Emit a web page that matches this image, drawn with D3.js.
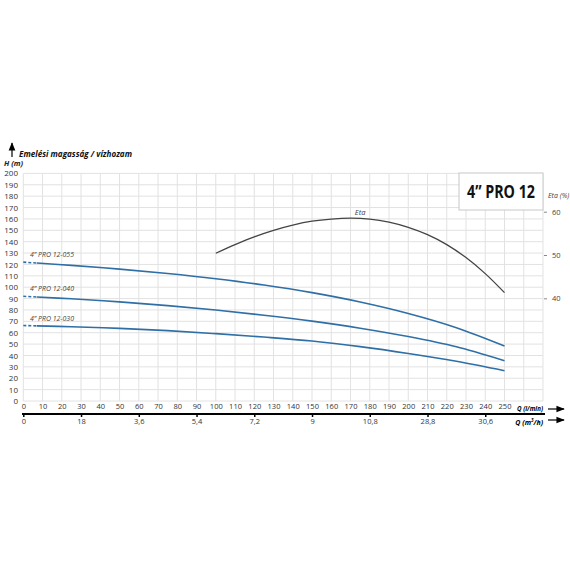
<!DOCTYPE html>
<html><head><meta charset="utf-8">
<script src="https://cdn.jsdelivr.net/npm/d3@7"></script>
<style>body{margin:0;background:#fff}svg{display:block}</style>
</head><body>
<script>
// ---- data ----
const flowQ = [0, 25, 50, 75, 100, 125, 150, 175, 200, 225, 250];
const head055 = [122, 119.2, 115.9, 112, 107.4, 101.9, 95.2, 87, 76.9, 64.4, 48.3];
const head040 = [92, 89.8, 87.1, 83.8, 79.9, 75.4, 70.2, 64, 56.6, 47.6, 35.4];
const head030 = [66.3, 65.3, 63.8, 61.8, 59.2, 56.2, 52.7, 47.8, 41.8, 34.9, 26.6];
const seriesNames = ["4\u201D PRO 12-055", "4\u201D PRO 12-040", "4\u201D PRO 12-030"];
const etaQ = [100, 110, 120, 130, 140, 150, 160, 170, 180, 190, 200, 210, 220, 230, 240, 250];
const etaVal = [50.4, 52.4, 54.2, 55.7, 56.9, 57.8, 58.3, 58.5, 58.3, 57.6, 56.4, 54.7, 52.4, 49.4, 45.7, 41.3];
const qTicks = [0,10,20,30,40,50,60,70,80,90,100,110,120,130,140,150,160,170,180,190,200,210,220,230,240,250];
const hTicks = [0,10,20,30,40,50,60,70,80,90,100,110,120,130,140,150,160,170,180,190,200];
const m3hTickQ = [0, 30, 60, 90, 120, 150, 180, 210, 240];
const m3hLabels = ["0", "18", "3,6", "5,4", "7,2", "9", "10,8", "28,8", "30,6"];
const etaTicks = [40, 50, 60];
const dashEndQ = 7;

const W = 570, H = 570;
const svg = d3.select("body").append("svg").attr("width", W).attr("height", H);
const x = d3.scaleLinear().domain([0, 250]).range([23.3, 504.5]);
const y = d3.scaleLinear().domain([0, 200]).range([401, 173.4]);
const yEta = d3.scaleLinear().domain([40, 60]).range([298.3, 211.7]);
const gridQmax = 270;
const font = "'Open Sans', 'Noto Sans', sans-serif";

// grid
const grid = svg.append("g").attr("stroke", "#e2e2e2").attr("stroke-width", 1);
grid.selectAll("line.v").data(d3.range(0, gridQmax + 1, 10)).join("line")
  .attr("x1", d => x(d)).attr("x2", d => x(d)).attr("y1", y(0)).attr("y2", y(200));
grid.selectAll("line.h").data(hTicks).join("line")
  .attr("x1", x(0)).attr("x2", x(gridQmax)).attr("y1", d => y(d)).attr("y2", d => y(d));

// left axis labels
const ya = svg.append("g").attr("transform", `translate(18,0)`)
  .call(d3.axisLeft(y).tickValues(hTicks).tickSize(0).tickPadding(0));
ya.select(".domain").remove();
ya.selectAll("text").attr("font-family", font).attr("font-size", 8).attr("fill", "#333");

// top x labels
const xa = svg.append("g").attr("transform", `translate(0,404)`)
  .call(d3.axisBottom(x).tickValues(qTicks).tickSize(0).tickPadding(0));
xa.select(".domain").remove();
xa.selectAll("text").attr("font-family", font).attr("font-size", 7.5).attr("fill", "#333");

// black axis line and m3/h axis
svg.append("line").attr("x1", 22).attr("x2", 545).attr("y1", 414).attr("y2", 414)
  .attr("stroke", "#000").attr("stroke-width", 2);
const m3 = svg.append("g").attr("transform", `translate(0,414)`)
  .call(d3.axisBottom(x).tickValues(m3hTickQ).tickSize(3).tickPadding(2)
    .tickFormat((d, i) => m3hLabels[i]));
m3.select(".domain").remove();
m3.selectAll("line").attr("stroke", "#000").attr("stroke-width", 1.5);
m3.selectAll("text").attr("font-family", font).attr("font-size", 7.5).attr("fill", "#333");

// Q labels + arrows
svg.append("defs").append("marker").attr("id", "arr").attr("viewBox", "0 0 10 10")
  .attr("refX", 9).attr("refY", 5).attr("markerWidth", 7).attr("markerHeight", 7)
  .attr("orient", "auto").append("path").attr("d", "M0,1 L10,5 L0,9 Z").attr("fill", "#000");
svg.append("text").attr("x", 517).attr("y", 411)
  .attr("font-family", font).attr("font-size", 7).attr("font-weight", "bold").attr("font-style", "italic")
  .attr("textLength", 26).attr("lengthAdjust", "spacingAndGlyphs").text("Q (l/min)");
const t2 = svg.append("text").attr("x", 543).attr("y", 425).attr("text-anchor", "end")
  .attr("font-family", font).attr("font-size", 7).attr("font-weight", "bold").attr("font-style", "italic");
t2.append("tspan").text("Q (m");
t2.append("tspan").attr("font-size", 4.5).attr("dy", -3).text("3");
t2.append("tspan").attr("dy", 3).text("/h)");
[409, 420].forEach(yy => svg.append("line").attr("x1", 548).attr("x2", 564).attr("y1", yy).attr("y2", yy)
  .attr("stroke", "#000").attr("stroke-width", 1.2).attr("marker-end", "url(#arr)"));

// title / y label
svg.append("line").attr("x1", 12).attr("x2", 12).attr("y1", 157).attr("y2", 143)
  .attr("stroke", "#000").attr("stroke-width", 1.2).attr("marker-end", "url(#arr)");
svg.append("text").attr("x", 19).attr("y", 157).attr("font-family", font).attr("font-size", 9)
  .attr("font-weight", "bold").attr("font-style", "italic").attr("fill", "#111")
  .attr("textLength", 113).attr("lengthAdjust", "spacingAndGlyphs")
  .text("Emelési magasság / vízhozam");
svg.append("text").attr("x", 4).attr("y", 166).attr("font-family", font).attr("font-size", 7.5)
  .attr("font-weight", "bold").attr("font-style", "italic").attr("fill", "#222").text("H (m)");

// curves
const blue = "#2f6fa6";
const heads = [head055, head040, head030];
const curve = d3.line().x(d => x(d[0])).y(d => y(d[1])).curve(d3.curveCatmullRom);
heads.forEach((hs, si) => {
  const pts = flowQ.map((q, i) => [q, hs[i]]);
  const fn = d3.scaleLinear().domain(flowQ).range(hs);
  const solid = pts.filter(p => p[0] > dashEndQ);
  const hAtDash = fn(dashEndQ);
  svg.append("path").attr("d", curve([[dashEndQ, hAtDash], ...solid]))
    .attr("fill", "none").attr("stroke", blue).attr("stroke-width", 1.6);
  svg.append("path").attr("d", curve([pts[0], [dashEndQ, hAtDash]]))
    .attr("fill", "none").attr("stroke", blue).attr("stroke-width", 1.6).attr("stroke-dasharray", "3,2");
  svg.append("text").attr("x", 30).attr("y", y(hs[0]) - 5).attr("font-family", font)
    .attr("font-size", 7.5).attr("font-style", "italic").attr("fill", "#444")
    .attr("textLength", 44).attr("lengthAdjust", "spacingAndGlyphs").text(seriesNames[si]);
});

// eta curve
const etaLine = d3.line().x(d => x(d[0])).y(d => yEta(d[1])).curve(d3.curveCatmullRom);
svg.append("path").attr("d", etaLine(etaQ.map((q, i) => [q, etaVal[i]])))
  .attr("fill", "none").attr("stroke", "#444").attr("stroke-width", 1.3);
svg.append("text").attr("x", x(175)).attr("y", 215).attr("text-anchor", "middle").attr("font-family", font)
  .attr("font-size", 7.5).attr("font-style", "italic").attr("fill", "#444").text("Eta");

// eta axis
const ea = svg.append("g").attr("transform", `translate(${x(gridQmax) + 4},0)`)
  .call(d3.axisRight(yEta).tickValues(etaTicks).tickSize(3).tickPadding(2));
ea.select(".domain").remove();
ea.selectAll("line").attr("stroke", "#888").attr("transform", "translate(-3,0)");
ea.selectAll("text").attr("font-family", font).attr("font-size", 7.5).attr("fill", "#444");
svg.append("text").attr("x", 548).attr("y", 198).attr("font-family", font).attr("font-size", 7)
  .attr("font-style", "italic").attr("fill", "#444").text("Eta (%)");

// title box
svg.append("rect").attr("x", 459).attr("y", 173).attr("width", 84).attr("height", 37)
  .attr("fill", "#fff").attr("stroke", "#c8c8c8").attr("stroke-width", 1);
svg.append("text").attr("x", 501).attr("y", 198).attr("text-anchor", "middle").attr("font-family", font)
  .attr("font-size", 17).attr("font-weight", "bold").attr("fill", "#111")
  .attr("textLength", 68).attr("lengthAdjust", "spacingAndGlyphs").text("4\u201D PRO 12");
</script>
</body></html>
